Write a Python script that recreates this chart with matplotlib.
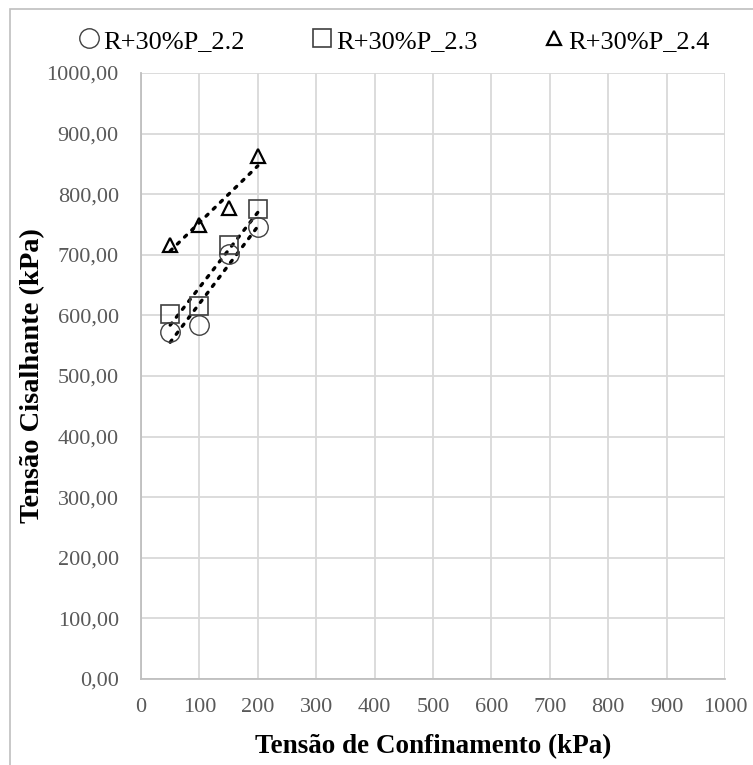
import numpy as np
import matplotlib
matplotlib.use("Agg")
from matplotlib import pyplot as plt
from matplotlib.patches import Rectangle

plt.rcParams['font.family'] = ['Liberation Serif', 'DejaVu Serif']

confinamento = [50, 100, 150, 200]
serie_22 = [573, 584, 702, 746]
serie_23 = [602, 615, 716, 775]
serie_24 = [716, 750, 777, 863]
nomes = ["R+30%P_2.2", "R+30%P_2.3", "R+30%P_2.4"]
x_ticks = list(range(0, 1001, 100))
y_ticks = list(range(0, 1001, 100))

fig = plt.figure(figsize=(7.53, 7.65), dpi=100)
ax = fig.add_axes([141 / 753, 86 / 765, 584 / 753, 606 / 765])

estilos = [
    dict(marker="o", ms=14, mec="#404040", mew=1.0),
    dict(marker="s", ms=13, mec="#404040", mew=1.2),
    dict(marker="^", ms=9.5, mec="black", mew=1.6),
]
for ys, nome, st in zip([serie_22, serie_23, serie_24], nomes, estilos):
    ax.plot(confinamento, ys, ls="none", mfc="none", label=nome, zorder=3, **st)
    # linha de tendencia linear
    a, b = np.polyfit(confinamento, ys, 1)
    xs = np.array([confinamento[0], confinamento[-1]])
    ax.plot(xs, a * xs + b, ls=(0, (0.8, 2.2)), color="black", lw=2.4,
            dash_capstyle="round", zorder=2)

ax.set_xlim(0, 1000)
ax.set_ylim(0, 1000)
ax.set_xticks(x_ticks)
ax.set_yticks(y_ticks)
ax.set_yticklabels([f"{v:.2f}".replace(".", ",") for v in y_ticks])
ax.tick_params(length=0, labelsize=16, labelcolor="#595959")
ax.tick_params(axis="y", pad=16)
ax.tick_params(axis="x", pad=14)
ax.grid(True, color="#d9d9d9", lw=1.3)
ax.set_axisbelow(True)
for s in ["top", "right"]:
    ax.spines[s].set_visible(False)
for s in ["left", "bottom"]:
    ax.spines[s].set_color("#bfbfbf")
    ax.spines[s].set_linewidth(1.3)

ax.set_xlabel("Tensão de Confinamento (kPa)", fontsize=19.5, fontweight="bold")
ax.set_ylabel("Tensão Cisalhante (kPa)", fontsize=20.5, fontweight="bold")
ax.xaxis.set_label_coords(0.5, -(747 - 679) / 606)
ax.yaxis.set_label_coords(-(141 - 33) / 584, 0.5)
ax.xaxis.label.set_verticalalignment("center")
ax.yaxis.label.set_verticalalignment("center")

fig.legend(loc="center", bbox_to_anchor=(393 / 753, 1 - 41 / 765), ncol=3, frameon=False,
           fontsize=19, handletextpad=0.05, columnspacing=2.4, handlelength=1.0)

# borda da area do grafico
fig.patches.append(Rectangle((10 / 753, -0.1), 1.2, 1.1 - 9 / 765,
                             transform=fig.transFigure, fill=False,
                             edgecolor="#bfbfbf", lw=1.2))

fig.savefig("out.png", dpi=100)
